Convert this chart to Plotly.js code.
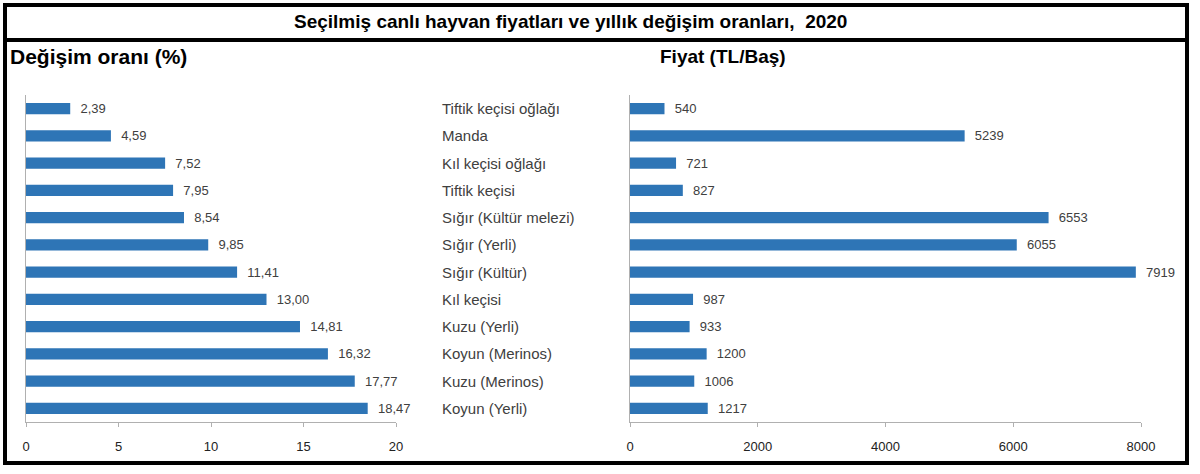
<!DOCTYPE html>
<html>
<head>
<meta charset="utf-8">
<script src="https://cdn.plot.ly/plotly-3.0.1.min.js"></script>
<style>
body { margin: 0; background: #fff; }
#chart { width: 1200px; height: 474px; }
</style>
</head>
<body>
<div id="chart"></div>
<script>
var categories = ['Tiftik keçisi oğlağı', 'Manda', 'Kıl keçisi oğlağı', 'Tiftik keçisi',
    'Sığır (Kültür melezi)', 'Sığır (Yerli)', 'Sığır (Kültür)', 'Kıl keçisi',
    'Kuzu (Yerli)', 'Koyun (Merinos)', 'Kuzu (Merinos)', 'Koyun (Yerli)'];
var changeRate = [2.39, 4.59, 7.52, 7.95, 8.54, 9.85, 11.41, 13.00, 14.81, 16.32, 17.77, 18.47];
var price = [540, 5239, 721, 827, 6553, 6055, 7919, 987, 933, 1200, 1006, 1217];
var rateTicks = [0, 5, 10, 15, 20];
var priceTicks = [0, 2000, 4000, 6000, 8000];

var barColor = '#2e75b6';
var textColor = '#404040';
var axisColor = '#b0b0b0';
var font = 'Liberation Sans, Arial, sans-serif';
var pad = '\u00a0\u00a0';

var rateText = [];
for (var i = 0; i < changeRate.length; i++)
{
    rateText.push(pad + changeRate[i].toFixed(2).replace('.', ','));
}
var priceText = [];
for (i = 0; i < price.length; i++)
{
    priceText.push(pad + String(price[i]));
}

var trace1 =
{
    type: 'bar',
    orientation: 'h',
    x: changeRate,
    y: categories,
    text: rateText,
    textposition: 'outside',
    constraintext: 'none',
    cliponaxis: false,
    textfont: {family: font, size: 13, color: textColor},
    marker: {color: barColor},
    xaxis: 'x',
    yaxis: 'y',
    hoverinfo: 'none'
};
var trace2 =
{
    type: 'bar',
    orientation: 'h',
    x: price,
    y: categories,
    text: priceText,
    textposition: 'outside',
    constraintext: 'none',
    cliponaxis: false,
    textfont: {family: font, size: 13, color: textColor},
    marker: {color: barColor},
    xaxis: 'x2',
    yaxis: 'y2',
    hoverinfo: 'none'
};

// category names in the middle, left aligned
var annotations = [];
for (i = 0; i < categories.length; i++)
{
    annotations.push({
        xref: 'paper', yref: 'y2', x: 440 / 1200, y: categories[i],
        text: categories[i], showarrow: false, xanchor: 'left', yanchor: 'middle',
        font: {family: font, size: 15, color: textColor}
    });
}
annotations.push({
    xref: 'paper', yref: 'paper', x: 570 / 1200, y: 1 - 22 / 474,
    text: '<b>Seçilmiş canlı hayvan fiyatları ve yıllık değişim oranları,  2020</b>',
    showarrow: false, xanchor: 'center', yanchor: 'middle',
    font: {family: font, size: 19, color: '#000'}
});
annotations.push({
    xref: 'paper', yref: 'paper', x: 8 / 1200, y: 1 - 57 / 474,
    text: '<b>Değişim oranı (%)</b>', showarrow: false, xanchor: 'left', yanchor: 'middle',
    font: {family: font, size: 21, color: '#000'}
});
annotations.push({
    xref: 'paper', yref: 'paper', x: 658 / 1200, y: 1 - 57 / 474,
    text: '<b>Fiyat (TL/Baş)</b>', showarrow: false, xanchor: 'left', yanchor: 'middle',
    font: {family: font, size: 19, color: '#000'}
});

var yDomain = [(474 - 422) / 474, (474 - 95) / 474];
var axisCommon =
{
    showgrid: false, zeroline: false, showline: true, linecolor: axisColor, linewidth: 1,
    ticks: 'outside', ticklen: 4, tickcolor: axisColor, ticklabelstandoff: 8,
    tickfont: {family: font, size: 13, color: '#222'}
};

var layout =
{
    width: 1200, height: 474,
    margin: {l: 0, r: 0, t: 0, b: 0},
    paper_bgcolor: '#fff', plot_bgcolor: '#fff',
    showlegend: false,
    bargap: 0.58,
    xaxis: Object.assign({}, axisCommon, {
        domain: [26 / 1200, 396 / 1200], range: [0, 20],
        tickvals: rateTicks, ticktext: rateTicks.map(String), anchor: 'y'
    }),
    yaxis: {
        domain: yDomain, autorange: 'reversed', showticklabels: false, ticks: '',
        showgrid: false, zeroline: false, showline: true, linecolor: axisColor, anchor: 'x'
    },
    xaxis2: Object.assign({}, axisCommon, {
        domain: [630 / 1200, 1141 / 1200], range: [0, 8000],
        tickvals: priceTicks, ticktext: priceTicks.map(String), anchor: 'y2'
    }),
    yaxis2: {
        domain: yDomain, autorange: 'reversed', showticklabels: false, ticks: '',
        showgrid: false, zeroline: false, showline: true, linecolor: axisColor, anchor: 'x2'
    },
    annotations: annotations,
    shapes: [
        {type: 'rect', xref: 'paper', yref: 'paper', x0: 5 / 1200, x1: 1187 / 1200,
            y0: 1 - 463 / 474, y1: 1 - 5 / 474, line: {color: '#000', width: 4}},
        {type: 'line', xref: 'paper', yref: 'paper', x0: 5 / 1200, x1: 1187 / 1200,
            y0: 1 - 40 / 474, y1: 1 - 40 / 474, line: {color: '#000', width: 4}}
    ]
};

Plotly.newPlot('chart', [trace1, trace2], layout, {displayModeBar: false, staticPlot: true});
</script>
</body>
</html>
